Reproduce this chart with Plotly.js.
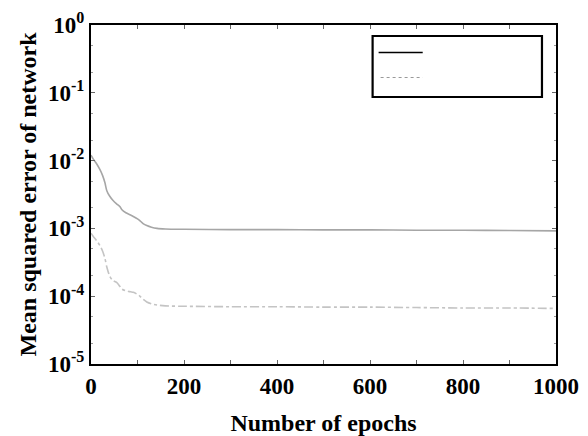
<!DOCTYPE html>
<html>
<head>
<meta charset="utf-8">
<script src="https://cdn.plot.ly/plotly-3.0.1.min.js"></script>
<style>html,body{margin:0;padding:0;background:#fff;}#chart{width:588px;height:436px;}</style>
</head>
<body>
<div id="chart"></div>
<script>
// Data
const epochs = [0, 5, 12, 19, 25, 30, 34, 40, 47, 55, 62, 66, 75, 85, 91, 100, 105, 112, 120, 130, 142, 160, 200, 300, 400, 500, 600, 700, 800, 900, 1000];
const mseTrain = [0.012, 0.0105, 0.009, 0.0074, 0.006, 0.0047, 0.0036, 0.003, 0.0026, 0.0023, 0.0021, 0.0019, 0.0017, 0.00158, 0.0015, 0.00138, 0.0013, 0.00118, 0.0011, 0.00104, 0.001, 0.00098, 0.00097, 0.00096, 0.00096, 0.00095, 0.00095, 0.00094, 0.00094, 0.00093, 0.00092];
const mseTest = [0.00085, 0.00076, 0.00066, 0.00056, 0.00046, 0.00036, 0.00027, 0.0002, 0.00017, 0.00016, 0.00014, 0.000128, 0.00012, 0.000116, 0.000114, 0.000106, 0.0001, 0.00009, 0.000082, 0.000077, 0.000074, 0.000072, 0.000071, 0.00007, 0.00007, 0.000069, 0.000069, 0.000068, 0.000067, 0.000067, 0.000066];
const yTickVals = [1e-5, 1e-4, 1e-3, 1e-2, 1e-1, 1];
const yTickText = ['10<sup>-5</sup>', '10<sup>-4</sup>', '10<sup>-3</sup>', '10<sup>-2</sup>', '10<sup>-1</sup>', '10<sup>0</sup>'];
const xTickVals = [0, 200, 400, 600, 800, 1000];

const fontFam = '"Liberation Serif", "Times New Roman", serif';

const traces = [
  {x: epochs, y: mseTrain, mode: 'lines', line: {color: '#a6a6a6', width: 1.6, shape: 'spline', smoothing: 0.8}, showlegend: false},
  {x: epochs, y: mseTest, mode: 'lines', line: {color: '#c4c4c4', width: 1.6, dash: 'dashdot', shape: 'spline', smoothing: 0.8}, showlegend: false}
];

const layout = {
  width: 588, height: 436,
  margin: {l: 91, r: 32, t: 25, b: 72},
  paper_bgcolor: '#fff', plot_bgcolor: '#fff',
  font: {family: fontFam, color: '#000', size: 22, weight: 'bold'},
  showlegend: false,
  xaxis: {
    range: [0, 1000], tickvals: xTickVals, ticktext: xTickVals.map(String),
    ticks: 'inside', ticklen: 4, tickcolor: '#666', tickwidth: 1,
    minor: {tickvals: [100, 300, 500, 700, 900], ticks: 'inside', ticklen: 4, tickcolor: '#666'},
    showline: true, linecolor: '#000', linewidth: 2, mirror: 'ticks',
    showgrid: false, zeroline: false,
    tickfont: {family: fontFam, size: 23, weight: 'bold'},
    title: {text: 'Number of epochs', font: {family: fontFam, size: 24, weight: 'bold'}, standoff: 18}
  },
  yaxis: {
    type: 'log', range: [-5, 0], tickvals: yTickVals, ticktext: yTickText,
    ticks: 'inside', ticklen: 4, tickcolor: '#666', tickwidth: 1,
    minor: {ticks: 'inside', ticklen: 2, tickcolor: '#999', showgrid: false},
    showline: true, linecolor: '#000', linewidth: 2, mirror: 'ticks',
    showgrid: false, zeroline: false,
    tickfont: {family: fontFam, size: 23, weight: 'bold'},
    title: {text: 'Mean squared error of network', font: {family: fontFam, size: 24, weight: 'bold'}, standoff: 5}
  },
  shapes: [
    {type: 'rect', xref: 'paper', yref: 'paper', x0: (372-91)/464, x1: (541-91)/464, y0: (364-97)/339, y1: (364-36)/339, line: {color: '#000', width: 2.2}, fillcolor: 'rgba(0,0,0,0)'},
    {type: 'line', xref: 'paper', yref: 'paper', x0: (378-91)/464, x1: (422-91)/464, y0: (364-52.5)/339, y1: (364-52.5)/339, line: {color: '#000', width: 1.3}},
    {type: 'line', xref: 'paper', yref: 'paper', x0: (380-91)/464, x1: (422-91)/464, y0: (364-77.5)/339, y1: (364-77.5)/339, line: {color: '#999', width: 1, dash: 'dot'}}
  ]
};

Plotly.newPlot('chart', traces, layout, {staticPlot: true, displayModeBar: false});
</script>
</body>
</html>
